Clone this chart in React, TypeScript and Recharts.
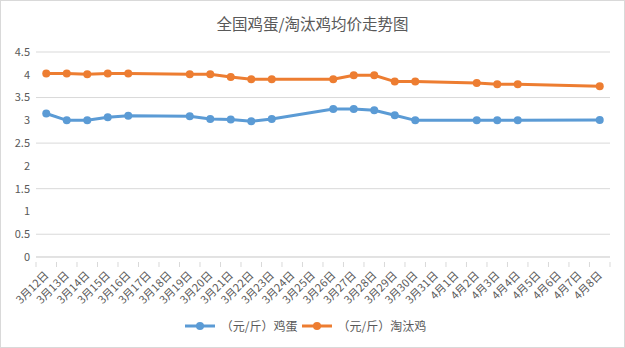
import React from "react";
import { LineChart, Line, XAxis, YAxis, CartesianGrid, Legend } from "recharts";

const dates = [
  "3月12日", "3月13日", "3月14日", "3月15日", "3月16日", "3月17日", "3月18日",
  "3月19日", "3月20日", "3月21日", "3月22日", "3月23日", "3月24日", "3月25日",
  "3月26日", "3月27日", "3月28日", "3月29日", "3月30日", "3月31日", "4月1日",
  "4月2日", "4月3日", "4月4日", "4月5日", "4月6日", "4月7日", "4月8日",
];

const eggPrices = [
  3.15, 3.0, 3.0, 3.07, 3.1, null, null,
  3.09, 3.03, 3.02, 2.98, 3.03, null, null,
  3.25, 3.25, 3.22, 3.11, 3.0, null, null,
  3.0, 3.0, 3.0, null, null, null, 3.01,
];

const chickenPrices = [
  4.03, 4.03, 4.01, 4.03, 4.03, null, null,
  4.01, 4.01, 3.95, 3.9, 3.9, null, null,
  3.9, 3.99, 3.99, 3.85, 3.85, null, null,
  3.82, 3.79, 3.79, null, null, null, 3.75,
];

const yTicks = [0, 0.5, 1, 1.5, 2, 2.5, 3, 3.5, 4, 4.5];

const eggName = "（元/斤）鸡蛋";
const chickenName = "（元/斤）淘汰鸡";

const data = dates.map((d, i) => ({ date: d, egg: eggPrices[i], chicken: chickenPrices[i] }));

const FONT = '"Noto Sans CJK SC", "Microsoft YaHei", sans-serif';
const TEXT = "#595959";
const GRID = "#d9d9d9";
const BLUE = "#5B9BD5";
const ORANGE = "#ED7D31";
const BAND = 575 / dates.length;

const DateTick = (props: any) => {
  const { x, y, payload, index } = props;
  const axisY = y - 3;
  const last = index === dates.length - 1;
  return (
    <g>
      <line x1={x - BAND / 2} y1={axisY} x2={x - BAND / 2} y2={axisY + 5} stroke={GRID} />
      {last && <line x1={x + BAND / 2} y1={axisY} x2={x + BAND / 2} y2={axisY + 5} stroke={GRID} />}
      <text
        x={x + 3}
        y={axisY + 14}
        textAnchor="end"
        fontSize={11}
        fill={TEXT}
        fontFamily={FONT}
        transform={`rotate(-45, ${x + 3}, ${axisY + 14})`}
      >
        {payload.value}
      </text>
    </g>
  );
};

const LegendIcon = ({ color }: { color: string }) => (
  <svg width={30} height={10} style={{ marginRight: 6 }}>
    <line x1={0} y1={5} x2={30} y2={5} stroke={color} strokeWidth={3} />
    <circle cx={15} cy={5} r={4} fill={color} />
  </svg>
);

const renderLegend = () => (
  <div style={{ display: "flex", justifyContent: "center", alignItems: "center", fontFamily: FONT, fontSize: 12, color: TEXT }}>
    <LegendIcon color={BLUE} />
    <span style={{ marginRight: 4 }}>{eggName}</span>
    <LegendIcon color={ORANGE} />
    <span>{chickenName}</span>
  </div>
);

const App = () => {
  return (
    <div
      style={{
        position: "absolute",
        left: 0,
        top: 0,
        width: 625,
        height: 348,
        boxSizing: "border-box",
        border: "1px solid #d9d9d9",
        background: "#fff",
      }}
    >
      <div
        style={{
          position: "absolute",
          top: 11,
          width: "100%",
          textAlign: "center",
          fontFamily: FONT,
          fontSize: 15.5,
          color: TEXT,
        }}
      >
        全国鸡蛋/淘汰鸡均价走势图
      </div>
      <LineChart
        width={623}
        height={346}
        data={data}
        margin={{ top: 51, right: 14, bottom: 10, left: 0 }}
        style={{ position: "absolute", left: 0, top: 0 }}
      >
        <CartesianGrid vertical={false} stroke={GRID} />
        <XAxis
          dataKey="date"
          interval={0}
          height={60}
          tickLine={false}
          axisLine={{ stroke: GRID }}
          padding={{ left: BAND / 2, right: BAND / 2 }}
          tick={<DateTick />}
        />
        <YAxis
          width={35}
          domain={[0, 4.5]}
          ticks={yTicks}
          axisLine={false}
          tickLine={false}
          tick={{ fontSize: 11, fill: TEXT, fontFamily: FONT }}
          tickMargin={0}
        />
        <Legend verticalAlign="bottom" height={20} content={renderLegend} />
        <Line
          type="linear"
          dataKey="egg"
          name={eggName}
          stroke={BLUE}
          strokeWidth={3}
          dot={{ r: 4, fill: BLUE, stroke: BLUE, strokeWidth: 0 }}
          connectNulls
          isAnimationActive={false}
        />
        <Line
          type="linear"
          dataKey="chicken"
          name={chickenName}
          stroke={ORANGE}
          strokeWidth={3}
          dot={{ r: 4, fill: ORANGE, stroke: ORANGE, strokeWidth: 0 }}
          connectNulls
          isAnimationActive={false}
        />
      </LineChart>
    </div>
  );
};

export default App;
